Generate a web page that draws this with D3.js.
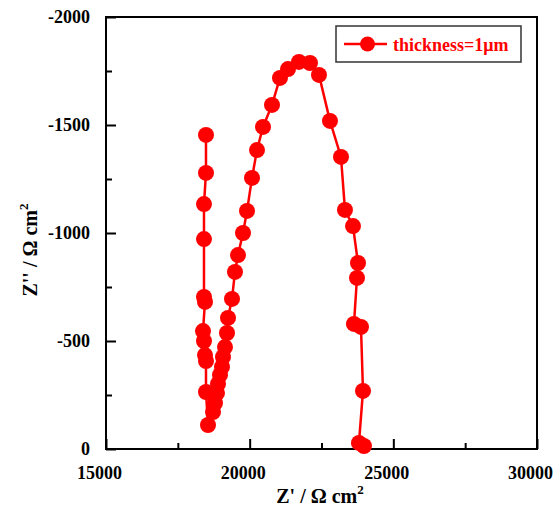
<!DOCTYPE html>
<html>
<head>
<meta charset="utf-8">
<script src="https://cdn.jsdelivr.net/npm/d3@7"></script>
<style>
  body { margin: 0; background: #fff; }
  text { font-family: "Liberation Serif", "Times New Roman", serif; font-weight: bold; }
</style>
</head>
<body>
<div id="chart"></div>
<script>
// data (Z' and Z'' in ohm cm2)
const zReal = [18480, 18480, 18410, 18410, 18410, 18445, 18376, 18410, 18445, 18480, 18480, 18550,
  18724, 18793, 18863, 18898, 18967, 19037, 19072, 19141, 19211, 19246, 19385, 19489, 19594, 19768,
  19907, 20081, 20255, 20464, 20777, 21055, 21334, 21716, 22099, 22412, 22795, 23178, 23317, 23596,
  23770, 23735, 23630, 23874, 23944, 23804, 23978];
const zImag = [-1454, -1278, -1134, -972, -704, -681, -546, -500, -435, -407, -264, -111,
  -171, -213, -259, -301, -343, -380, -426, -472, -537, -607, -695, -820, -898, -1000,
  -1102, -1255, -1384, -1491, -1593, -1718, -1759, -1792, -1787, -1732, -1519, -1352, -1107, -1032,
  -861, -792, -579, -565, -269, -28, -14];
const xTicks = [15000, 20000, 25000, 30000];
const xMinor = [17500, 22500, 27500];
const yTicks = [0, -500, -1000, -1500, -2000];
const yMinor = [-250, -750, -1250, -1750];
const seriesName = "thickness=1\u03BCm";

const width = 555, height = 508;
const margin = { top: 17, right: 18, bottom: 59, left: 106 };
const red = "#ff0000";

const svg = d3.select("#chart").append("svg")
  .attr("width", width)
  .attr("height", height);

const x = d3.scaleLinear().domain([15000, 30000]).range([margin.left, width - margin.right]);
const y = d3.scaleLinear().domain([0, -2000]).range([height - margin.bottom, margin.top]);

// axes, ticks pointing inward
const gx = svg.append("g").attr("transform", `translate(0,${y(0)})`)
  .call(d3.axisBottom(x).tickValues(xTicks).tickSize(-10).tickPadding(17).tickFormat(d => String(d)));
svg.append("g").attr("transform", `translate(0,${y(0)})`)
  .call(d3.axisBottom(x).tickValues(xMinor).tickSize(-6).tickFormat(""));
const gy = svg.append("g").attr("transform", `translate(${x(15000)},0)`)
  .call(d3.axisLeft(y).tickValues(yTicks).tickSize(-10).tickPadding(16).tickFormat(d => String(d)));
svg.append("g").attr("transform", `translate(${x(15000)},0)`)
  .call(d3.axisLeft(y).tickValues(yMinor).tickSize(-6).tickFormat(""));

svg.selectAll(".domain").remove();
svg.selectAll(".tick line").attr("stroke", "#000").attr("stroke-width", 2);
svg.selectAll(".tick text")
  .attr("fill", "#000")
  .style("font-size", "18px");
gx.selectAll(".tick text").attr("dx", -7);

// frame
svg.append("rect")
  .attr("x", x(15000)).attr("y", y(-2000))
  .attr("width", x(30000) - x(15000))
  .attr("height", y(0) - y(-2000))
  .attr("fill", "none")
  .attr("stroke", "#000")
  .attr("stroke-width", 2);

// series
const pts = zReal.map((v, i) => [v, zImag[i]]);
svg.append("path")
  .datum(pts)
  .attr("fill", "none")
  .attr("stroke", red)
  .attr("stroke-width", 2.5)
  .attr("d", d3.line().x(d => x(d[0])).y(d => y(d[1])));

svg.append("g").selectAll("circle")
  .data(pts)
  .join("circle")
  .attr("cx", d => x(d[0]))
  .attr("cy", d => y(d[1]))
  .attr("r", 8)
  .attr("fill", red);

// axis titles
const xt = svg.append("text")
  .attr("x", 320).attr("y", 503)
  .attr("text-anchor", "middle")
  .style("font-size", "20px");
xt.append("tspan").text("Z' / \u03A9 cm");
xt.append("tspan").attr("dy", -9).style("font-size", "13px").text("2");

const yt = svg.append("text")
  .attr("transform", "translate(37,250) rotate(-90)")
  .attr("text-anchor", "middle")
  .style("font-size", "20px");
yt.append("tspan").text("Z'' / \u03A9 cm");
yt.append("tspan").attr("dy", -9).style("font-size", "13px").text("2");

// legend
const lg = svg.append("g").attr("transform", "translate(336,26)");
lg.append("rect")
  .attr("width", 185).attr("height", 36)
  .attr("fill", "#fff")
  .attr("stroke", "#333")
  .attr("stroke-width", 1.5);
lg.append("line")
  .attr("x1", 8).attr("x2", 51).attr("y1", 18).attr("y2", 18)
  .attr("stroke", red).attr("stroke-width", 2.5);
lg.append("circle").attr("cx", 31.5).attr("cy", 18).attr("r", 7.5).attr("fill", red);
lg.append("text")
  .attr("x", 57).attr("y", 25)
  .attr("fill", red)
  .style("font-size", "18px")
  .text(seriesName);
</script>
</body>
</html>
